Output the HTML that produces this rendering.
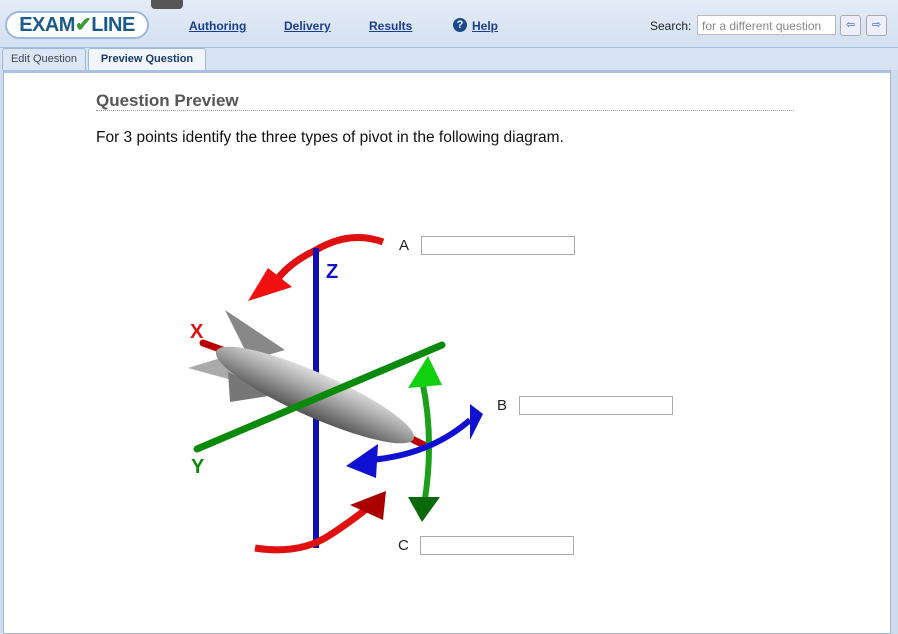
<!DOCTYPE html>
<html><head><style>
body{margin:0;width:898px;height:612px;overflow:hidden;background:#cfdcee;font-family:"Liberation Sans",sans-serif;position:relative}
.hdr{position:absolute;left:0;top:0;width:898px;height:47px;background:linear-gradient(#e4ecf7,#d3e0f1);border-bottom:1px solid #a9c0e0}
.logo{position:absolute;left:5px;top:11px;width:140px;height:24px;border:2px solid #9cb8dc;border-radius:14px;background:#fff;font-weight:bold;font-size:20px;color:#1b5b8c;line-height:24px;text-align:center;letter-spacing:-0.5px}
.nav{position:absolute;top:19px;font-size:12px;font-weight:bold;color:#1a3e8c;text-decoration:underline}
.tabs{position:absolute;left:0;top:48px;width:898px;height:22px;background:#d7e3f3}
.tab{position:absolute;top:0;height:21px;border:1px solid #9fb8da;border-bottom:none;border-radius:3px 3px 0 0;font-size:11px;line-height:21px;text-align:center}
.content{position:absolute;left:3px;top:70px;width:886px;height:560px;background:#fff;border:1px solid #9fb8da;border-top:3px solid #a8c1e4}
input{position:absolute;border:1px solid #aaa;height:17px;width:152px;padding:0;margin:0;background:#fff}
.lab{position:absolute;font-size:15px;color:#222}
</style></head><body>
<div class="hdr">
<div style="position:absolute;left:151px;top:0;width:32px;height:9px;background:#555;border-radius:0 0 4px 4px"></div>
<div class="logo">EXAM<span style="color:#3a9a3a">✔</span>LINE</div>
<span class="nav" style="left:189px">Authoring</span>
<span class="nav" style="left:284px">Delivery</span>
<span class="nav" style="left:369px">Results</span>
<span style="position:absolute;left:453px;top:18px;width:14px;height:14px;border-radius:50%;background:#1a4a8c;color:#fff;font-size:11px;font-weight:bold;text-align:center;line-height:14px">?</span>
<span class="nav" style="left:472px">Help</span>
<span style="position:absolute;left:650px;top:19px;font-size:12px;color:#222">Search:</span>
<div style="position:absolute;left:697px;top:15px;height:20px;border:1px solid #bbb;background:#fff;font-size:12px;color:#888;line-height:20px;padding-left:4px;box-sizing:border-box;width:139px;white-space:nowrap;overflow:hidden">for a different question</div>
<div style="position:absolute;left:840px;top:15px;width:19px;height:19px;border:1px solid #aaa;border-radius:3px;background:#eef;font-size:11px;color:#36c;text-align:center;line-height:19px">⇦</div>
<div style="position:absolute;left:866px;top:15px;width:19px;height:19px;border:1px solid #aaa;border-radius:3px;background:#eef;font-size:11px;color:#36c;text-align:center;line-height:19px">⇨</div>
</div>
<div class="tabs">
<div class="tab" style="left:2px;width:82px;background:#dde7f4;color:#445">Edit Question</div>
<div class="tab" style="left:88px;width:116px;background:#f2f6fc;color:#1a3a6c;font-weight:bold;height:22px">Preview Question</div>
</div>
<div class="content"></div>
<div style="position:absolute;left:96px;top:91px;font-size:17px;font-weight:bold;color:#555">Question Preview</div>
<div style="position:absolute;left:96px;top:110px;width:698px;border-top:1px dotted #999"></div>
<div style="position:absolute;left:96px;top:129px;font-size:15.5px;color:#111">For 3 points identify the three types of pivot in the following diagram.</div>
<svg style="position:absolute;left:0;top:0" width="898" height="612">
<defs><linearGradient id="g" x1="0" y1="0" x2="0" y2="1"><stop offset="0" stop-color="#ddd"/><stop offset="0.4" stop-color="#aaa"/><stop offset="1" stop-color="#555"/></linearGradient></defs>
<path d="M383,242 Q350,230 316,250 Q290,262 275,282" fill="none" stroke="#e01010" stroke-width="7"/>
<polygon points="248,301 292,287 268,268" fill="#f01010"/>
<polygon points="225,310 285,350 250,360" fill="#888"/>
<polygon points="188,368 240,352 250,385" fill="#aaa"/>
<polygon points="228,372 275,395 230,402" fill="#777"/>
<line x1="203" y1="343" x2="250" y2="360" stroke="#b00" stroke-width="7" stroke-linecap="round"/>
<line x1="400" y1="433" x2="428" y2="447" stroke="#b00" stroke-width="7"/>
<line x1="316" y1="248" x2="316" y2="548" stroke="#1010b0" stroke-width="6"/>
<ellipse cx="315" cy="395" rx="108" ry="22" transform="rotate(24 315 395)" fill="url(#g)"/>
<line x1="197" y1="449" x2="442" y2="345" stroke="#0a8a0a" stroke-width="7" stroke-linecap="round"/>
<path d="M422,380 Q435,440 424,505" fill="none" stroke="#1ca01c" stroke-width="6"/>
<polygon points="408,388 428,356 442,385" fill="#10d010"/>
<polygon points="408,497 422,522 440,497" fill="#0a6a0a"/>
<path d="M370,460 Q430,455 470,420" fill="none" stroke="#1010d0" stroke-width="6"/>
<polygon points="346,466 378,444 376,478" fill="#1010d0"/>
<polygon points="470,404 483,414 470,440" fill="#1010d0"/>
<path d="M255,548 Q300,555 330,535 Q350,522 365,510" fill="none" stroke="#e01010" stroke-width="7"/>
<polygon points="350,505 386,491 383,520" fill="#a00"/>
<text x="190" y="338" font-family="Liberation Sans" font-weight="bold" font-size="20" fill="#e01010">X</text>
<text x="326" y="278" font-family="Liberation Sans" font-weight="bold" font-size="20" fill="#1010d0">Z</text>
<text x="191" y="473" font-family="Liberation Sans" font-weight="bold" font-size="20" fill="#0a8a0a">Y</text>
</svg>
<span class="lab" style="left:399px;top:237px">A</span><input style="left:421px;top:236px">
<span class="lab" style="left:497px;top:397px">B</span><input style="left:519px;top:396px">
<span class="lab" style="left:398px;top:537px">C</span><input style="left:420px;top:536px">
</body></html>
